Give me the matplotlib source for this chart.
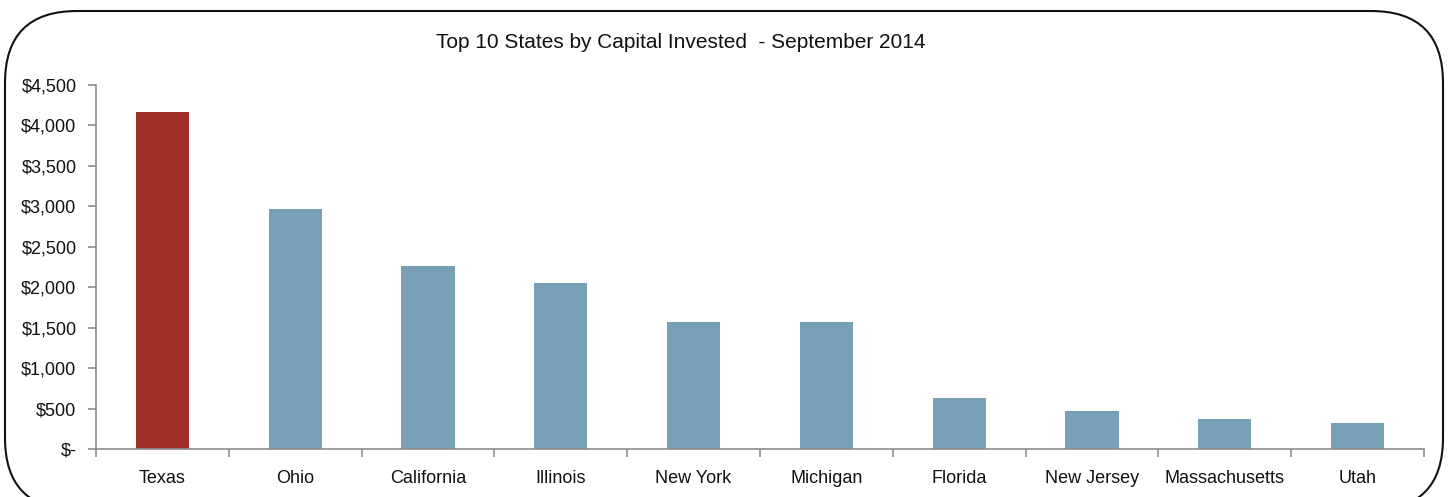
import matplotlib
matplotlib.use("Agg")
import matplotlib.pyplot as plt
from matplotlib.patches import FancyBboxPatch
from matplotlib.ticker import FuncFormatter, FixedLocator
import numpy as np

states = ["Texas", "Ohio", "California", "Illinois", "New York", "Michigan",
          "Florida", "New Jersey", "Massachusetts", "Utah"]
capital = [4165, 2970, 2262, 2052, 1572, 1572, 632, 470, 367, 327]
bar_colors = ["#A03128"] + ["#77A0B6"] * 9
title = "Top 10 States by Capital Invested  - September 2014"
yticks = [0, 500, 1000, 1500, 2000, 2500, 3000, 3500, 4000, 4500]

plt.rcParams['font.family'] = ['Liberation Sans', 'DejaVu Sans']

W, H = 1450, 497
fig = plt.figure(figsize=(W / 100, H / 100), dpi=100)
ax = fig.add_axes([96 / W, 48 / H, (1424 - 96) / W, (449 - 85) / H])

x = np.arange(len(states))
ax.bar(x, capital, width=0.4, color=bar_colors, zorder=2)
ax.set_xlim(-0.5, len(states) - 0.5)
ax.set_ylim(0, 4500)

ax.set_yticks(yticks)
ax.yaxis.set_major_formatter(FuncFormatter(lambda v, p: "$-" if v == 0 else "${:,.0f}".format(v)))
ax.set_xticks(x)
ax.set_xticklabels(states)
ax.xaxis.set_minor_locator(FixedLocator(np.arange(-0.5, len(states), 1.0)))

for s in ["top", "right"]:
    ax.spines[s].set_visible(False)
for s in ["left", "bottom"]:
    ax.spines[s].set_color("#8C8C8C")
    ax.spines[s].set_linewidth(1.2)

ax.tick_params(axis="y", direction="out", length=6, width=1.2, color="#8C8C8C",
               labelsize=13, pad=8, labelcolor="#111111")
ax.tick_params(axis="x", which="major", length=0, labelsize=13, pad=15, labelcolor="#111111")
ax.tick_params(axis="x", which="minor", direction="out", length=6, width=1.2, color="#8C8C8C")

fig.text(681 / W, 1 - 43 / H, title, ha="center", va="center", fontsize=15, color="#111111")

box = FancyBboxPatch((5, -13), 1438, 499, boxstyle="round,pad=0,rounding_size=72",
                     transform=None, fill=False, edgecolor="#111111", linewidth=1.5,
                     clip_on=False)
fig.patches.append(box)

fig.savefig("out.png", dpi=100)
